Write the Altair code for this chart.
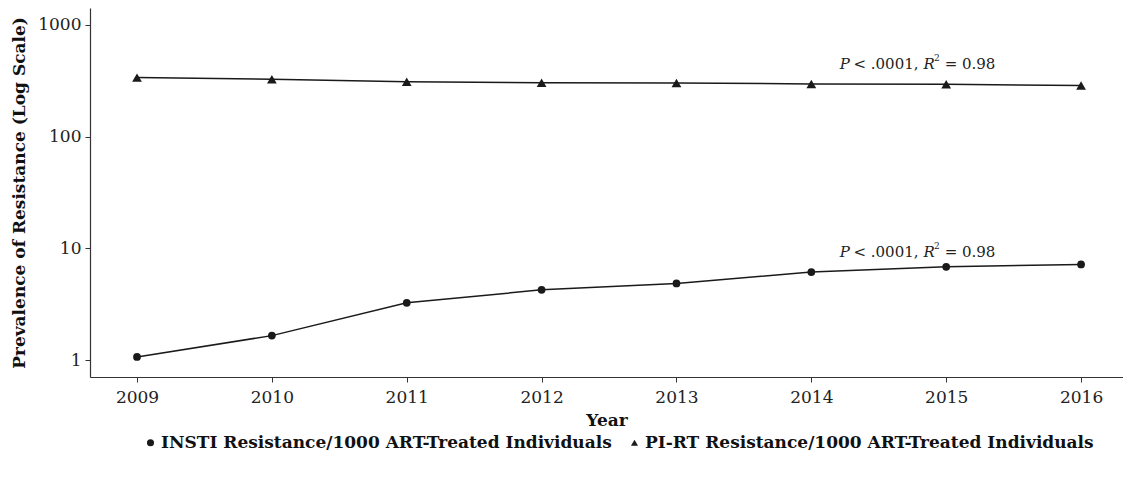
import altair as alt
import pandas as pd

years = [2009, 2010, 2011, 2012, 2013, 2014, 2015, 2016]
insti = [1.07, 1.66, 3.26, 4.26, 4.86, 6.14, 6.85, 7.19]
pirt = [337, 326, 309, 303, 301, 296, 294, 286]
series_names = ["INSTI Resistance/1000 ART-Treated Individuals",
                "PI-RT Resistance/1000 ART-Treated Individuals"]
y_ticks = [1, 10, 100, 1000]
ann_x = [2014.21, 2014.21]
ann_y = [448, 9.3]

FONT = "DejaVu Serif"
NB = "\u00a0"

rows = []
for yr, v in zip(years, insti):
    rows.append({"year": yr, "value": v, "series": series_names[0]})
for yr, v in zip(years, pirt):
    rows.append({"year": yr, "value": v, "series": series_names[1]})
df = pd.DataFrame(rows)
ann = pd.DataFrame({"x": ann_x, "y": ann_y})

xscale = alt.Scale(domain=[2008.6515, 2016.311], nice=False, zero=False)
yscale = alt.Scale(type="log", domain=[0.708, 1413], nice=False)

x_enc = alt.X("year:Q", scale=xscale,
              axis=alt.Axis(values=years, format="d", title="Year"))
y_enc = alt.Y("value:Q", scale=yscale,
              axis=alt.Axis(values=y_ticks, format="d",
                            title="Prevalence of Resistance (Log Scale)"))

lines = alt.Chart(df).mark_line(color="#1a1a1a", strokeWidth=1.5).encode(
    x=x_enc, y=y_enc, detail="series:N")

points = alt.Chart(df).mark_point(filled=True, opacity=1, color="#1a1a1a").encode(
    x=x_enc, y=y_enc,
    shape=alt.Shape("series:N",
                    scale=alt.Scale(domain=series_names, range=["circle", "triangle-up"]),
                    legend=alt.Legend(title=None, orient="none", direction="horizontal",
                                      legendX=52, legendY=426,
                                      labelFont=FONT, labelFontSize=17, labelFontWeight="bold",
                                      labelColor="#111", symbolSize=50, labelLimit=0,
                                      symbolFillColor="#1a1a1a", symbolStrokeWidth=0,
                                      symbolStrokeColor="#1a1a1a",
                                      columnPadding=14, labelOffset=2)),
    size=alt.condition(alt.datum.series == series_names[1], alt.value(95), alt.value(60)),
)

segments = [
    ("P", "italic", 15, 0, 0),
    ("<" + NB + ".0001,", "normal", 15, 13.8, 0),
    ("R", "italic", 15, 83.8, 0),
    ("2", "normal", 9, 94.3, -6),
    ("=" + NB + "0.98", "normal", 15, 105.0, 0),
]
ann_layers = []
for txt, style, size, dx, dy in segments:
    ann_layers.append(
        alt.Chart(ann).mark_text(text=txt, font=FONT, fontStyle=style, fontSize=size,
                                 align="left", baseline="middle", dx=dx, dy=dy,
                                 color="#222").encode(
            x=alt.X("x:Q", scale=xscale), y=alt.Y("y:Q", scale=yscale)))

chart = alt.layer(lines, points, *ann_layers).properties(
    width=1033, height=369,
    autosize=alt.AutoSizeParams(type="none"),
    padding={"left": 82, "top": 0, "right": 0, "bottom": 100},
).configure_view(stroke=None).configure_axis(
    grid=False, domainColor="#333", domainWidth=1.2, tickColor="#333", tickSize=5,
    labelFont=FONT, labelFontSize=17, labelColor="#222", labelPadding=4,
    titleFont=FONT, titleFontSize=17, titleFontWeight="bold", titleColor="#111",
).configure_axisY(titlePadding=9).configure_axisX(labelPadding=7, titlePadding=7)

chart.save("out.html", embed_options={"renderer": "svg", "actions": False})
